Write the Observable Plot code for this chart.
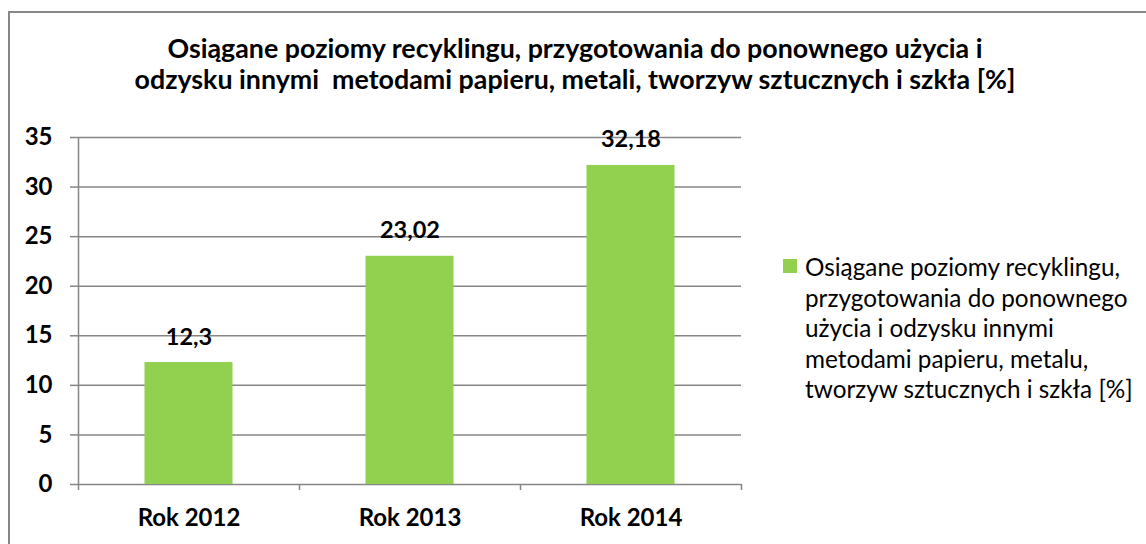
<!DOCTYPE html>
<html>
<head>
<meta charset="utf-8">
<script src="https://cdn.jsdelivr.net/npm/d3@7"></script>
<script src="https://cdn.jsdelivr.net/npm/@observablehq/plot@0.6"></script>
<style>
  html, body { margin: 0; padding: 0; background: #fff; }
  #wrap { position: relative; width: 1146px; height: 544px; overflow: hidden; background: #fff; font-family: Lato, "Open Sans", sans-serif; }
  #frame { position: absolute; left: 8px; top: 11px; width: 1300px; height: 700px; border: 2px solid #878787; box-sizing: border-box; }
  #title { position: absolute; left: 0; top: 33px; width: 1150px; text-align: center; font-weight: bold; font-size: 26.8px; line-height: 31px; color: #000; }
  #chart { position: absolute; left: 0; top: 100px; }
  #legend { position: absolute; left: 783px; top: 252px; width: 360px; }
  #legend .sw { position: absolute; left: 0; top: 7px; width: 14px; height: 14px; background: #92D050; }
  #legend .tx { position: absolute; left: 22px; top: 0; font-size: 24.3px; line-height: 30.5px; color: #000; white-space: nowrap; }
</style>
</head>
<body>
<div id="wrap">
  <div id="frame"></div>
  <div id="title"></div>
  <div id="chart"></div>
  <div id="legend"><div class="sw"></div><div class="tx"></div></div>
</div>
<script>
const titleLines = [
  "Osiągane poziomy recyklingu, przygotowania do ponownego użycia i",
  "odzysku innymi\u00a0 metodami papieru, metali, tworzyw sztucznych i szkła [%]"
];
const legendLines = [
  "Osiągane poziomy recyklingu,",
  "przygotowania do ponownego",
  "użycia i odzysku innymi",
  "metodami papieru, metalu,",
  "tworzyw sztucznych i szkła [%]"
];
const categories = ["Rok 2012", "Rok 2013", "Rok 2014"];
const values = [12.3, 23.02, 32.18];
const valueLabels = ["12,3", "23,02", "32,18"];
const yTicks = [0, 5, 10, 15, 20, 25, 30, 35];

document.getElementById("title").innerHTML = titleLines.join("<br>");
document.querySelector("#legend .tx").innerHTML = legendLines.join("<br>");

const data = categories.map((c, i) => ({i, category: c, value: values[i], label: valueLabels[i]}));
const boundaries = d3.range(categories.length + 1);
const centers = categories.map((c, i) => i + 0.5);

const gray = "#868686";
const chart = Plot.plot({
  width: 770,
  height: 444,
  marginLeft: 78,
  marginRight: 29,
  marginTop: 37,
  marginBottom: 60,
  style: {fontFamily: "Lato, 'Open Sans', sans-serif", fontSize: "24px", fontWeight: "bold", color: "#000", background: "transparent"},
  x: {type: "linear", domain: [0, categories.length], axis: null},
  y: {domain: [0, 35], axis: null},
  marks: [
    Plot.ruleY(yTicks, {stroke: gray, strokeWidth: 1.5, strokeOpacity: 1}),
    Plot.ruleX([0], {stroke: gray, strokeWidth: 1.5}),
    Plot.axisY({ticks: yTicks, tickSize: 8, tickPadding: 18, stroke: gray, strokeWidth: 1.5, strokeOpacity: 1, fill: "#000", tickFormat: d => String(d), label: null}),
    Plot.axisX({ticks: boundaries, tickSize: 6, tickPadding: 0, stroke: gray, strokeWidth: 1.5, strokeOpacity: 1, tickFormat: () => "", label: null}),
    Plot.axisX({ticks: centers, tickSize: 0, tickPadding: 24, fill: "#000", tickFormat: d => categories[Math.floor(d)], label: null}),
    Plot.rectY(data, {x1: d => d.i, x2: d => d.i + 1, y: "value", insetLeft: 66.5, insetRight: 66.5, fill: "#92D050"}),
    Plot.text(data, {x: d => d.i + 0.5, y: "value", text: "label", lineAnchor: "bottom", dy: -18, fill: "#000", fontSize: 23.5})
  ]
});
document.getElementById("chart").appendChild(chart);
</script>
</body>
</html>
